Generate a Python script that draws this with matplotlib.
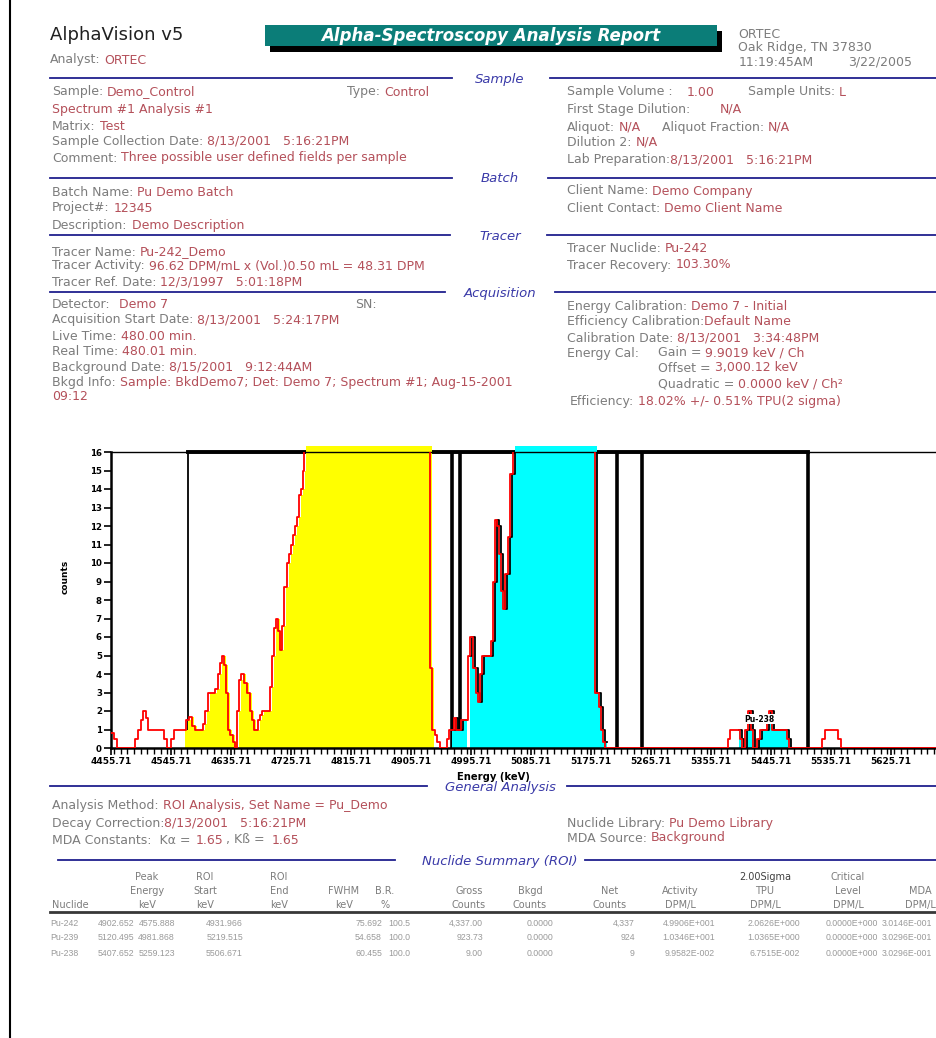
import numpy as np
import matplotlib
matplotlib.use("Agg")
import matplotlib.pyplot as plt
from matplotlib.patches import Rectangle
from matplotlib.lines import Line2D
from matplotlib.ticker import FixedLocator, MultipleLocator

plt.rcParams['font.family'] = ['DejaVu Sans']

W, H = 937, 1038

# ---------------- spectrum data (step: count holds until next energy) ----------------
energy_kev = [
    4455.7, 4460.2, 4464.7, 4491.7, 4496.2, 4500.7, 4503.7, 4508.2, 4511.2,
    4535.2, 4539.7, 4545.7, 4550.2, 4568.2, 4572.7, 4577.2, 4581.7, 4593.7, 4596.7, 4601.2,
    4611.7, 4616.2, 4619.2, 4622.2, 4625.2, 4628.2, 4631.2, 4634.2, 4638.7, 4641.7, 4644.7,
    4647.7, 4650.7, 4655.2, 4659.7, 4664.2, 4667.2, 4670.2, 4676.2, 4679.2, 4682.2, 4694.2,
    4697.2, 4700.2, 4703.2, 4706.2, 4709.2, 4712.2, 4715.2, 4719.7, 4722.7, 4725.7, 4728.7,
    4731.7, 4734.7, 4737.7, 4740.7, 4743.7, 4745.2, 4748.2, 4784.2, 4829.2, 4859.2, 4889.2,
    4919.2, 4931.2, 4934.2, 4937.2, 4941.7, 4944.7, 4949.2, 4959.7, 4962.7, 4970.2, 4973.2,
    4980.7, 4991.2, 4994.2, 4998.7, 5003.2, 5006.2, 5009.2, 5012.2, 5025.7, 5028.7, 5031.7,
    5034.7, 5037.7, 5040.7, 5043.7, 5046.7, 5051.2, 5054.2, 5058.7, 5084.2, 5114.2, 5144.2,
    5166.7, 5181.7, 5187.7, 5190.7, 5193.7, 5196.7, 5381.2, 5384.2, 5399.2, 5402.2, 5406.7,
    5411.2, 5415.7, 5418.7, 5424.7, 5429.2, 5439.7, 5442.7, 5447.2, 5469.7, 5472.7, 5522.2,
    5526.7, 5546.2, 5550.7, 5694.7]
counts = [
    0.8, 0.5, 0, 0.5, 1, 1.5, 2, 1.6, 1,
    0.5, 0, 0.5, 1, 1.5, 1.7, 1.2, 1, 1.3, 2, 3,
    3.2, 4, 4.6, 5, 4.5, 3, 1, 0.7, 0.3, 0, 2,
    3.7, 4, 3.5, 3, 2, 1.5, 1, 1.5, 1.8, 2, 3.3,
    5, 6.5, 7, 6.3, 5.3, 6.6, 8.7, 10, 10.5, 11, 11.5,
    12, 12.5, 13.7, 14, 15, 16.5, 30, 80, 150, 120, 60,
    25, 20, 4.3, 1, 0.7, 0.3, 0, 0.5, 1, 1.6, 1,
    1.5, 5, 6, 4.3, 3, 2.5, 4, 5, 5.8, 9, 12.3,
    12, 10.5, 8.5, 7.5, 9.4, 11.4, 14.8, 17, 40, 70, 50,
    20, 3, 2.2, 1, 0.3, 0, 0.5, 1, 0.5, 0, 1,
    2, 1, 0, 0.5, 1, 1.5, 2, 1, 0.5, 0, 0.5,
    1, 0.5, 0, 0]

# regions of interest (keV)
yellow_regions = [(4563.7, 4937.2)]
cyan_regions = [(4964.2, 4986.7), (4991.2, 5196.7), (5394.7, 5474.2)]
roi_markers_thick = [4967.2, 4979.2, 5214.7, 5252.2, 5501.2]
roi_marker_thin = [4571.2]
roi_box_span = (4571.2, 5501.2)
peak_label = ("Pu-238", 5429.0, 1.55)

x_major = [4455.71 + 90 * k for k in range(14)]
y_ticks = list(range(0, 17))

# ---------------- table data ----------------
nuclides = ["Pu-242", "Pu-239", "Pu-238"]
peak_energy = ["4902.652", "5120.495", "5407.652"]
roi_start = ["4575.888", "4981.868", "5259.123"]
roi_end = ["4931.966", "5219.515", "5506.671"]
fwhm = ["75.692", "54.658", "60.455"]
branching = ["100.5", "100.0", "100.0"]
gross = ["4,337.00", "923.73", "9.00"]
bkgd = ["0.0000", "0.0000", "0.0000"]
net = ["4,337", "924", "9"]
activity = ["4.9906E+001", "1.0346E+001", "9.9582E-002"]
tpu = ["2.0626E+000", "1.0365E+000", "6.7515E-002"]
critical = ["0.0000E+000", "0.0000E+000", "0.0000E+000"]
mda = ["3.0146E-001", "3.0296E-001", "3.0296E-001"]

GRAY = "#7c7c7c"
RED = "#b4505a"
BLUE = "#3a3aa8"
NAVY = "#20208e"
TEAL = "#0b7d78"
BODY = 9.0

fig = plt.figure(figsize=(W / 100, H / 100), dpi=100)
renderer = fig.canvas.get_renderer()


def txt(x, y, s, color=GRAY, size=BODY, ha='left', va='center', **kw):
    return fig.text(x / W, 1 - y / H, s, color=color, fontsize=size, ha=ha, va=va, **kw)


def pair(x, y, label, value, gap=4, size=BODY):
    t = txt(x, y, label, size=size)
    bb = t.get_window_extent(renderer)
    return txt(bb.x1 + gap, y, value, color=RED, size=size)


def chain(x, y, parts, size=BODY):
    for s, col, gap in parts:
        t = txt(x, y, s, color=col, size=size)
        x = t.get_window_extent(renderer).x1 + gap


def hline(x0, x1, y, color=NAVY, lw=1.3):
    fig.add_artist(Line2D([x0 / W, x1 / W], [1 - y / H, 1 - y / H], color=color, lw=lw))


def section(y, title, left_end, right_start, left_start=50):
    hline(left_start, left_end, y)
    hline(right_start, W, y)
    txt(500, y + 1, title, color=BLUE, size=9.5, ha='center', style='italic')


# page edge line
fig.add_artist(Line2D([10 / W, 10 / W], [0, 1], color='black', lw=1.5))

# header
txt(50, 35, "AlphaVision v5", color='#202020', size=13)
pair(50, 60, "Analyst:", "ORTEC")
fig.add_artist(Rectangle((270 / W, 1 - 52 / H), 452 / W, 21 / H, transform=fig.transFigure,
                         facecolor='black', edgecolor='none'))
fig.add_artist(Rectangle((265 / W, 1 - 46 / H), 452 / W, 21 / H, transform=fig.transFigure,
                         facecolor=TEAL, edgecolor='none'))
txt(491, 36, "Alpha-Spectroscopy Analysis Report", color='white', size=12,
    ha='center', weight='bold', style='italic')
txt(738, 34, "ORTEC")
txt(738, 48, "Oak Ridge, TN 37830")
txt(739, 62, "11:19:45AM")
txt(848, 62, "3/22/2005")

# Sample
section(78, "Sample", 452, 550)
pair(52, 92, "Sample:", "Demo_Control")
pair(347, 92, "Type:", "Control")
txt(52, 109, "Spectrum #1 Analysis #1", color=RED)
pair(52, 126, "Matrix:", "Test")
pair(52, 141, "Sample Collection Date:", "8/13/2001   5:16:21PM")
pair(52, 158, "Comment:", "Three possible user defined fields per sample")
txt(567, 92, "Sample Volume :")
txt(687, 92, "1.00", color=RED)
pair(748, 92, "Sample Units:", "L")
txt(567, 109, "First Stage Dilution:")
txt(720, 109, "N/A", color=RED)
pair(567, 127, "Aliquot:", "N/A")
pair(662, 127, "Aliquot Fraction:", "N/A")
pair(567, 142, "Dilution 2:", "N/A")
pair(567, 160, "Lab Preparation:", "8/13/2001   5:16:21PM", gap=0)

# Batch
section(178, "Batch", 452, 548)
pair(52, 192, "Batch Name:", "Pu Demo Batch")
pair(52, 208, "Project#:", "12345")
pair(52, 226, "Description:", "Demo Description")
pair(567, 191, "Client Name:", "Demo Company")
pair(567, 208, "Client Contact:", "Demo Client Name")

# Tracer
section(235, "Tracer", 450, 547)
pair(52, 252, "Tracer Name:", "Pu-242_Demo")
pair(52, 266, "Tracer Activity:", "96.62 DPM/mL x (Vol.)0.50 mL = 48.31 DPM")
pair(52, 282, "Tracer Ref. Date:", "12/3/1997   5:01:18PM")
pair(567, 249, "Tracer Nuclide:", "Pu-242")
pair(567, 265, "Tracer Recovery:", "103.30%")

# Acquisition
section(292, "Acquisition", 445, 555)
pair(52, 305, "Detector:", " Demo 7")
txt(355, 305, "SN:")
pair(52, 320, "Acquisition Start Date:", "8/13/2001   5:24:17PM")
pair(52, 336, "Live Time:", "480.00 min.")
pair(52, 351, "Real Time:", "480.01 min.")
pair(52, 367, "Background Date:", "8/15/2001   9:12:44AM")
pair(52, 383, "Bkgd Info:", "Sample: BkdDemo7; Det: Demo 7; Spectrum #1; Aug-15-2001")
txt(52, 397, "09:12", color=RED)
pair(567, 307, "Energy Calibration:", "Demo 7 - Initial")
pair(567, 322, "Efficiency Calibration:", "Default Name", gap=0)
pair(567, 338, "Calibration Date:", "8/13/2001   3:34:48PM")
txt(567, 353, "Energy Cal:")
pair(658, 353, "Gain =", "9.9019 keV / Ch")
pair(658, 368, "Offset =", "3,000.12 keV")
pair(658, 384, "Quadratic =", "0.0000 keV / Ch\u00b2")
pair(570, 402, "Efficiency:", "18.02% +/- 0.51% TPU(2 sigma)")

# ---------------- spectrum chart ----------------
ax = fig.add_axes([111 / W, 1 - 748 / H, (W - 111) / W, 296 / H])
E = np.asarray(energy_kev, dtype=float)
C = np.asarray(counts, dtype=float)
assert len(E) == len(C)
shift = 3.0


def segment(lo, hi):
    i0 = np.searchsorted(E, lo, side='right') - 1
    inside = (E > lo) & (E < hi)
    vals = C[inside]
    last = vals[-1] if len(vals) else C[i0]
    xs = np.concatenate([[lo], E[inside], [hi]])
    ys = np.concatenate([[C[i0]], vals, [last]])
    return xs, ys


for xm in roi_marker_thin:
    ax.plot([xm, xm], [0, 16], color='black', lw=1.3, zorder=1)
for xm in roi_markers_thick:
    ax.plot([xm, xm], [0, 16], color='black', lw=2.6, zorder=1)
ax.plot(list(roi_box_span), [16, 16], color='black', lw=2.8, zorder=1, clip_on=False)

for lo, hi in yellow_regions:
    xs, ys = segment(lo, hi)
    ax.fill_between(xs + shift, 0, np.minimum(ys, 16.3), step='post', color='#ffff00',
                    lw=0, zorder=2, clip_on=False)
for lo, hi in cyan_regions:
    xs, ys = segment(lo, hi)
    ax.fill_between(xs + shift, 0, np.minimum(ys, 16.3), step='post', color='#00ffff',
                    lw=0, zorder=2, clip_on=False)
    ax.step(xs + shift, ys, where='post', color='black', lw=1.3, zorder=3)

ax.step(E, C, where='post', color='#ff0000', lw=1.3, zorder=4)

lab, lx, ly = peak_label
ax.text(lx, ly, lab, fontsize=5.5, weight='bold', ha='center', va='center', zorder=6,
        bbox=dict(facecolor='white', edgecolor='none', pad=0.4))

ax.set_xlim(4455.71, 5694.71)
ax.set_ylim(0, 16)
ax.xaxis.set_major_locator(FixedLocator(x_major))
ax.set_xticklabels([f"{v:.2f}" for v in x_major])
ax.xaxis.set_minor_locator(MultipleLocator(10))
ax.yaxis.set_major_locator(FixedLocator(y_ticks))
ax.tick_params(axis='both', which='major', labelsize=6.5, width=1.2, length=5, pad=1.5,
               direction='out')
ax.tick_params(axis='y', labelsize=6.2)
ax.tick_params(axis='x', which='minor', width=1.0, length=4, direction='out')
for lbl in ax.get_xticklabels() + ax.get_yticklabels():
    lbl.set_fontweight('bold')
for s in ['left', 'bottom']:
    ax.spines[s].set_linewidth(1.8)
ax.spines['top'].set_linewidth(1.0)
ax.spines['right'].set_visible(False)
ax.patch.set_alpha(0)

txt(65, 577, "counts", color='black', size=6.5, ha='center', rotation=90, weight='bold')
txt(493, 777, "Energy (keV)", color='black', size=7.2, ha='center', weight='bold')

# ---------------- General Analysis ----------------
section(786, "General Analysis", 427, 567)
pair(52, 805, "Analysis Method:", "ROI Analysis, Set Name = Pu_Demo")
pair(52, 823, "Decay Correction:", "8/13/2001   5:16:21PM", gap=0)
chain(52, 840, [("MDA Constants:  K\u03b1 =", GRAY, 5), ("1.65", RED, 3),
                (", K\u00df =", GRAY, 7), ("1.65", RED, 0)])
pair(567, 823, "Nuclide Library:", "Pu Demo Library")
pair(567, 838, "MDA Source:", "Background")

section(860, "Nuclide Summary (ROI)", 395, 585, left_start=58)

# table header
TH = 7.0
headers = [
    (52, 'left', ["", "", "Nuclide"]),
    (147, 'center', ["Peak", "Energy", "keV"]),
    (205, 'center', ["ROI", "Start", "keV"]),
    (279, 'center', ["ROI", "End", "keV"]),
    (344, 'center', ["", "FWHM", "keV"]),
    (385, 'center', ["", "B.R.", "%"]),
    (469, 'center', ["", "Gross", "Counts"]),
    (530, 'center', ["", "Bkgd", "Counts"]),
    (610, 'center', ["", "Net", "Counts"]),
    (680, 'center', ["", "Activity", "DPM/L"]),
    (765, 'center', ["2.00Sigma", "TPU", "DPM/L"]),
    (848, 'center', ["Critical", "Level", "DPM/L"]),
    (920, 'center', ["", "MDA", "DPM/L"]),
]
for x, ha, rows in headers:
    for yy, s in zip([877, 891, 905], rows):
        if s:
            col = '#404040' if s == "2.00Sigma" else GRAY
            txt(x, yy, s, color=col, size=TH, ha=ha)
hline(50, W, 912, color='#383838', lw=2.0)

TD = 6.3
DCOL = '#9a9a9a'
columns = [
    (50, 'left', nuclides), (134, 'right', peak_energy), (175, 'right', roi_start),
    (243, 'right', roi_end), (382, 'right', fwhm), (410, 'right', branching),
    (483, 'right', gross), (553, 'right', bkgd), (635, 'right', net),
    (715, 'right', activity), (800, 'right', tpu), (878, 'right', critical),
    (882, 'left', mda),
]
for x, ha, vals in columns:
    for yy, s in zip([923, 938, 953], vals):
        txt(x, yy, s, color=DCOL, size=TD, ha=ha, family=['Liberation Sans'])

fig.savefig("out.png", dpi=100)
